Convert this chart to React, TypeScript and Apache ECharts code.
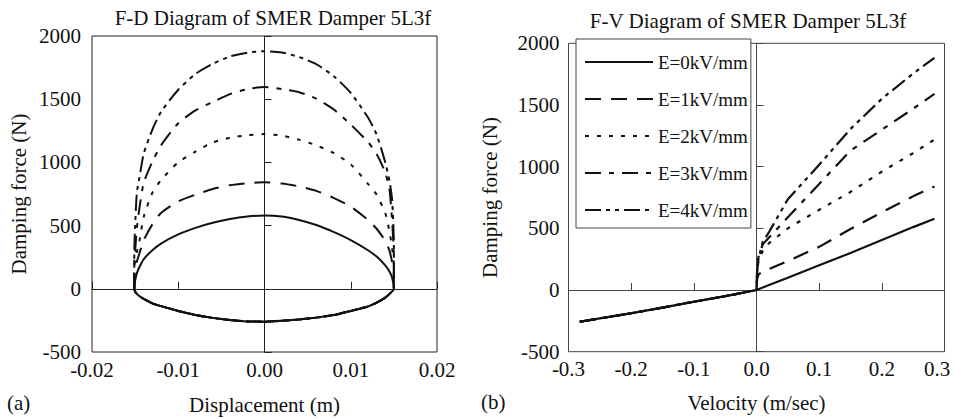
import React, { useEffect, useRef } from 'react';
import * as echarts from 'echarts';

// ---------- shared ----------
const SERIES_NAMES = ['E=0kV/mm', 'E=1kV/mm', 'E=2kV/mm', 'E=3kV/mm', 'E=4kV/mm'];

// ---------- (a) F-D diagram: displacement (m) vs damping force (N) ----------
const DISP_UPPER = [-0.0151, -0.0151, -0.015, -0.0148, -0.0145, -0.014, -0.013, -0.012, -0.01, -0.008, -0.006, -0.004, -0.002, 0, 0.002, 0.004, 0.006, 0.008, 0.01, 0.012, 0.013, 0.014, 0.0145, 0.0148, 0.015, 0.015];
const FD_E0 = [0, 0, 65, 122, 172, 235, 305, 358, 430, 482, 522, 552, 572, 580, 572, 545, 505, 450, 385, 305, 255, 185, 135, 88, 0, 0];
const FD_E1 = [0, 120, 160, 215, 280, 385, 510, 600, 692, 745, 790, 820, 836, 842, 833, 810, 775, 720, 650, 545, 475, 380, 300, 210, 140, 0];
const FD_E2 = [0, 170, 220, 290, 380, 570, 760, 860, 1000, 1085, 1158, 1195, 1215, 1224, 1212, 1180, 1135, 1075, 985, 830, 745, 600, 450, 320, 180, 0];
const FD_E3 = [0, 250, 300, 480, 640, 840, 1005, 1135, 1310, 1412, 1478, 1540, 1580, 1596, 1580, 1555, 1505, 1420, 1300, 1160, 1066, 920, 780, 530, 260, 0];
const FD_E4 = [0, 280, 500, 760, 880, 1070, 1260, 1400, 1575, 1700, 1780, 1838, 1868, 1880, 1870, 1834, 1777, 1684, 1550, 1355, 1220, 1000, 850, 700, 350, 0];
const DISP_LOWER = [0.015, 0.0148, 0.0145, 0.014, 0.013, 0.012, 0.01, 0.008, 0.006, 0.004, 0.002, 0, -0.002, -0.004, -0.006, -0.008, -0.01, -0.012, -0.013, -0.014, -0.0145, -0.0148, -0.015, -0.0151];
const FD_LOWER = [0, -20, -40, -70, -110, -140, -175, -208, -228, -243, -253, -260, -258, -247, -230, -207, -175, -137, -115, -80, -58, -40, -22, 0];

// ---------- (b) F-V diagram: velocity (m/sec) vs damping force (N) ----------
const VEL_NEG = [-0.282, -0.25, -0.2, -0.15, -0.1, -0.05, -0.02, 0];
const FV_NEG = [-257, -230, -188, -143, -95, -50, -20, 0];
const VEL_POS = [0, 0.001, 0.003, 0.01, 0.02, 0.05, 0.1, 0.15, 0.2, 0.25, 0.284];
const FV_E0 = [0, 2, 6, 20, 40, 100, 200, 300, 405, 510, 578];
const FV_E1 = [0, 90, 125, 150, 170, 235, 350, 495, 630, 760, 840];
const FV_E2 = [0, 150, 230, 320, 380, 500, 650, 795, 960, 1110, 1220];
const FV_E3 = [0, 170, 265, 370, 425, 590, 860, 1130, 1300, 1470, 1590];
const FV_E4 = [0, 150, 250, 390, 470, 736, 1015, 1306, 1550, 1755, 1882];

// tick settings
const FD_X = { min: -0.02, max: 0.02, interval: 0.01, decimals: 2 };
const FV_X = { min: -0.3, max: 0.3, interval: 0.1, decimals: 1 };
const FORCE_Y = { min: -500, max: 2000, interval: 500 };

const FONT = '"Liberation Serif", "Times New Roman", Times, serif';
const INK = '#111';
const DASHES: any[] = ['solid', [16, 10], [4, 8], [16, 8, 5, 8], [16, 5, 4, 5, 4, 5]];

export default function App() {
  const ref = useRef<HTMLDivElement>(null);

  useEffect(() => {
    if (!ref.current) return;
    const chart = echarts.init(ref.current, null, { renderer: 'svg' });

    const fdUpper = [FD_E0, FD_E1, FD_E2, FD_E3, FD_E4];
    const fvUpper = [FV_E0, FV_E1, FV_E2, FV_E3, FV_E4];

    const labelXAxis = (gridIndex: number, s: any, name: string, nameGap: number, shiftMax: boolean) => ({
      type: 'value', gridIndex, min: s.min, max: s.max, interval: s.interval, position: 'bottom',
      name, nameLocation: 'middle', nameGap, nameMoveOverlap: false,
      nameTextStyle: { fontFamily: FONT, fontSize: 21, color: INK },
      axisLine: { show: false, onZero: false }, axisTick: { show: false }, splitLine: { show: false },
      axisLabel: {
        show: true, margin: 7, fontFamily: FONT, fontSize: 21, color: INK,
        showMinLabel: true, showMaxLabel: true, hideOverlap: false,
        formatter: (v: number) => {
          const t = v.toFixed(s.decimals);
          return shiftMax && Math.abs(v - s.max) < 1e-9 ? '{r|' + t + '}' : t;
        },
        rich: { r: { fontFamily: FONT, fontSize: 21, color: INK, padding: [0, 15, 0, 0] } },
      },
    });
    const zeroXAxis = (gridIndex: number, s: any, color: string) => ({
      type: 'value', gridIndex, min: s.min, max: s.max, interval: s.interval, position: 'bottom',
      axisLine: { show: true, onZero: true, lineStyle: { color, width: 1 } },
      axisTick: { show: true, inside: true, length: 7, lineStyle: { color, width: 1 } },
      axisLabel: { show: false }, splitLine: { show: false },
    });
    const labelYAxis = (gridIndex: number, name: string, nameGap: number, margin: number) => ({
      type: 'value', gridIndex, min: FORCE_Y.min, max: FORCE_Y.max, interval: FORCE_Y.interval, position: 'left',
      name, nameLocation: 'middle', nameGap, nameRotate: 90, nameMoveOverlap: false,
      nameTextStyle: { fontFamily: FONT, fontSize: 21, color: INK },
      axisLine: { show: false, onZero: false }, axisTick: { show: false }, splitLine: { show: false },
      axisLabel: {
        show: true, margin, fontFamily: FONT, fontSize: 21, color: INK, showMinLabel: true, showMaxLabel: true, hideOverlap: false,
        formatter: (v: number) => String(Math.round(v)),
      },
    });
    const zeroYAxis = (gridIndex: number, color: string) => ({
      type: 'value', gridIndex, min: FORCE_Y.min, max: FORCE_Y.max, interval: FORCE_Y.interval, position: 'left',
      axisLine: { show: true, onZero: true, lineStyle: { color, width: 1 } },
      axisTick: { show: true, inside: true, length: 7, lineStyle: { color, width: 1 } },
      axisLabel: { show: false }, splitLine: { show: false },
    });

    const series: any[] = [];
    SERIES_NAMES.forEach((name, i) => {
      const up = DISP_UPPER.map((x, k) => [x, fdUpper[i][k]]);
      const low = DISP_LOWER.map((x, k) => [x, FD_LOWER[k]]);
      series.push({
        name, type: 'line', xAxisIndex: 0, yAxisIndex: 0, symbol: 'none', smooth: 0.2,
        data: up.concat(low), lineStyle: { color: INK, width: 2, type: DASHES[i] }, itemStyle: { color: INK },
        z: 5,
      });
    });
    SERIES_NAMES.forEach((name, i) => {
      const neg = VEL_NEG.map((v, k) => [v, FV_NEG[k]]);
      const pos = VEL_POS.slice(1).map((v, k) => [v, fvUpper[i][k + 1]]);
      series.push({
        name, type: 'line', xAxisIndex: 2, yAxisIndex: 2, symbol: 'none', smooth: false,
        data: neg.concat(pos), lineStyle: { color: INK, width: 2.2, type: DASHES[i] }, itemStyle: { color: INK },
        z: 5,
      });
    });

    const option: any = {
      animation: false,
      backgroundColor: '#fff',
      grid: [
        { left: 92, right: 519, top: 36, bottom: 67, show: true, borderColor: '#222', borderWidth: 1, backgroundColor: 'transparent', containLabel: false, outerBoundsMode: 'none' },
        { left: 568.5, right: 11.5, top: 43.3, bottom: 67.3, show: true, borderColor: '#444', borderWidth: 1, backgroundColor: 'transparent', containLabel: false, outerBoundsMode: 'none' },
      ],
      xAxis: [
        labelXAxis(0, FD_X, 'Displacement (m)', 42, false),
        zeroXAxis(0, FD_X, '#222'),
        labelXAxis(1, FV_X, 'Velocity (m/sec)', 41, true),
        zeroXAxis(1, FV_X, '#444'),
      ],
      yAxis: [
        labelYAxis(0, 'Damping force (N)', 63, 11),
        zeroYAxis(0, '#222'),
        labelYAxis(1, 'Damping force (N)', 68, 9),
        zeroYAxis(1, '#444'),
      ],
      legend: {
        data: SERIES_NAMES,
        orient: 'vertical',
        left: 576,
        top: 39,
        padding: [13, 3, 8, 8],
        itemWidth: 68,
        itemHeight: 14,
        itemGap: 17,
        selectedMode: false,
        backgroundColor: '#fff',
        borderColor: '#444',
        borderWidth: 1,
        borderRadius: 0,
        itemStyle: { color: 'rgba(0,0,0,0)', borderWidth: 0, opacity: 0 },
        textStyle: { fontFamily: FONT, fontSize: 19, color: INK, lineHeight: 20 },
        z: 10,
      },
      graphic: [
        { type: 'text', x: 273, y: 18, style: { text: 'F-D Diagram of SMER Damper 5L3f', fontFamily: FONT, fontSize: 21, fill: INK, align: 'center', verticalAlign: 'middle' } },
        { type: 'text', x: 748, y: 21, style: { text: 'F-V Diagram of SMER Damper 5L3f', fontFamily: FONT, fontSize: 21, fill: INK, align: 'center', verticalAlign: 'middle' } },
        { type: 'text', x: 7, y: 403, style: { text: '(a)', fontFamily: FONT, fontSize: 21, fill: INK, align: 'left', verticalAlign: 'middle' } },
        { type: 'text', x: 481, y: 402, style: { text: '(b)', fontFamily: FONT, fontSize: 21, fill: INK, align: 'left', verticalAlign: 'middle' } },
      ],
      series,
    };
    chart.setOption(option);
    return () => chart.dispose();
  }, []);

  return <div ref={ref} style={{ position: 'absolute', left: 0, top: 0, width: 956, height: 419 }} />;
}
